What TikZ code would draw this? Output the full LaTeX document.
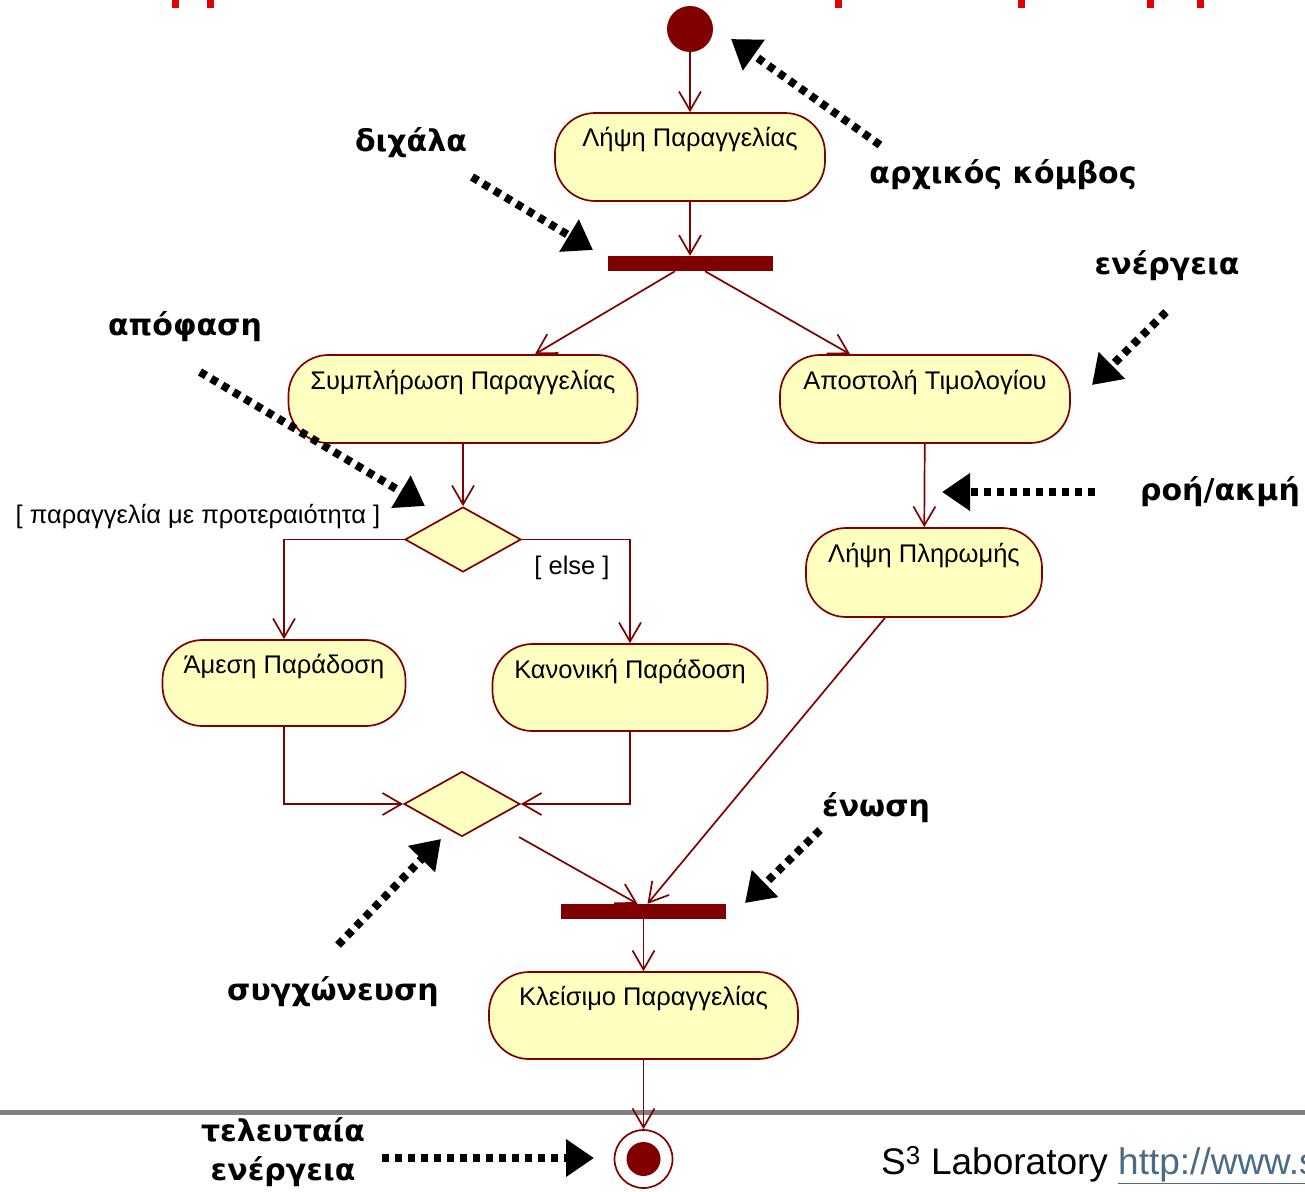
\documentclass[tikz,border=0pt]{standalone}
\usepackage{fontspec}
\setmainfont{Liberation Sans}
\newfontfamily\notefont{DejaVu Sans}
\usetikzlibrary{arrows.meta,shapes.geometric,calc}
\definecolor{umlred}{HTML}{800000}
\definecolor{actfill}{HTML}{FFFFC0}
\definecolor{rulegray}{HTML}{808080}
\definecolor{linkblue}{HTML}{4A6A86}
\definecolor{titlered}{HTML}{E00000}
\begin{document}
\begin{tikzpicture}[x=1pt,y=-1pt,
  act/.style={draw=umlred, line width=1.7pt, fill=actfill, rounded corners=40pt, inner sep=0pt},
  acttext/.style={font=\fontsize{25.5}{30}\selectfont, anchor=base, inner sep=0pt},
  guard/.style={font=\fontsize{25.5}{30}\selectfont, inner sep=0pt},
  bar/.style={fill=umlred, inner sep=0pt, minimum height=15pt},
  choice/.style={diamond, draw=umlred, line width=1.7pt, fill=actfill, inner sep=0pt, minimum width=116pt, minimum height=65pt},
  flow/.style={draw=umlred, line width=1.7pt, -{Straight Barb[length=19pt,width=22pt,line width=1.7pt]}},
  note/.style={line width=8pt, dash pattern=on 7pt off 6pt, -{Triangle[length=28pt,width=36pt]}},
  notetext/.style={font=\notefont\bfseries\fontsize{30}{34}\selectfont, inner sep=0pt, align=center},
]
\useasboundingbox (0,0) rectangle (1305,1191);

% fragments of the heading above
\foreach \xx in {175,210,838,1021,1150,1200}
  \fill[titlered] (\xx-3.5,0) rectangle (\xx+3.5,8);

% footer rule
\draw[rulegray, line width=5pt] (0,1112) -- (1305,1112);

% ---- activity nodes ----
\node[circle, fill=umlred, minimum size=46pt, inner sep=0pt] (start) at (690,29) {};
\node[act, minimum width=270pt, minimum height=88pt] (take) at (690,157) {};
\node[acttext] (takeT) at ([yshift=-34pt]take.north) {Λήψη Παραγγελίας};

\node[bar, minimum width=165pt] (fork) at (690,263.5) {};

\node[act, minimum width=349pt, minimum height=88pt] (complete) at (463,399) {};
\node[acttext] (completeT) at ([yshift=-35pt]complete.north) {Συμπλήρωση Παραγγελίας};

\node[act, minimum width=290pt, minimum height=88pt] (invoice) at (925,399) {};
\node[acttext] (invoiceT) at ([yshift=-35pt]invoice.north) {Αποστολή Τιμολογίου};

\node[choice] (decide) at (463,539.5) {};
\node[guard] (g1) at (198,517) {[ παραγγελία με προτεραιότητα ]};
\node[guard] (g2) at (572,568) {[ else ]};

\node[act, minimum width=243pt, minimum height=86pt] (rush) at (284,683) {};
\node[acttext] (rushT) at ([yshift=-34pt]rush.north) {Άμεση Παράδοση};

\node[act, minimum width=275pt, minimum height=87pt] (normal) at (630,687.5) {};
\node[acttext] (normalT) at ([yshift=-35pt]normal.north) {Κανονική Παράδοση};

\node[choice] (merge) at (462,804) {};

\node[act, minimum width=236pt, minimum height=89pt] (pay) at (924,572.5) {};
\node[acttext] (payT) at ([yshift=-35pt]pay.north) {Λήψη Πληρωμής};

\node[bar, minimum width=165pt] (join) at (643.5,911.5) {};

\node[act, minimum width=309pt, minimum height=87pt] (close) at (643.5,1015.5) {};
\node[acttext] (closeT) at ([yshift=-34pt]close.north) {Κλείσιμο Παραγγελίας};

\node[circle, draw=umlred, line width=1.7pt, fill=white, minimum size=58pt, inner sep=0pt] (final) at (643.5,1159) {};
\node[circle, fill=umlred, minimum size=34pt, inner sep=0pt] (finalDot) at (final) {};

% ---- control flow ----
\draw[flow] (start) -- (take);
\draw[flow] (take) -- (fork);
\draw[flow] ([xshift=-15pt]fork.south) -- ([xshift=72pt]complete.north);
\draw[flow] ([xshift=15pt]fork.south) -- ([xshift=-75pt]invoice.north);
\draw[flow] (complete) -- (decide);
\draw[flow] (decide.west) -| (rush.north);
\draw[flow] (decide.east) -| (normal.north);
\draw[flow] (rush.south) |- (merge.west);
\draw[flow] (normal.south) |- (merge.east);
\draw[flow] ($(merge.center)+(57,33)$) -- ([xshift=-6pt]join.north);
\draw[flow] (invoice) -- (pay);
\draw[flow] ([xshift=-39pt]pay.south) -- ([xshift=4pt]join.north);
\draw[flow] (join) -- (close);
\draw[flow] (close) -- (final);

% ---- annotations ----
\node[notetext] (nFork) at (411,143) {διχάλα};
\coordinate (nForkA) at (472,177);
\coordinate (nForkB) at (593,250);
\draw[note] (nForkA) -- (nForkB);

\node[notetext] (nStart) at (1003,175) {αρχικός κόμβος};
\coordinate (nStartA) at (880,145);
\coordinate (nStartB) at (731,39);
\draw[note] (nStartA) -- (nStartB);

\node[notetext] (nAct) at (1167,266) {ενέργεια};
\coordinate (nActA) at (1166,312);
\coordinate (nActB) at (1092,385);
\draw[note] (nActA) -- (nActB);

\node[notetext] (nDec) at (185,327) {απόφαση};
\coordinate (nDecA) at (200,372);
\coordinate (nDecB) at (425,506);
\draw[note] (nDecA) -- (nDecB);

\node[notetext] (nEdge) at (1220,492) {ροή/ακμή};
\coordinate (nEdgeA) at (1095,492);
\coordinate (nEdgeB) at (942,492);
\draw[note] (nEdgeA) -- (nEdgeB);

\node[notetext] (nJoin) at (876,808) {ένωση};
\coordinate (nJoinA) at (820,830);
\coordinate (nJoinB) at (745,903);
\draw[note] (nJoinA) -- (nJoinB);

\node[notetext] (nMerge) at (333,992) {συγχώνευση};
\coordinate (nMergeA) at (338,945);
\coordinate (nMergeB) at (441,839);
\draw[note] (nMergeA) -- (nMergeB);

\node[notetext] (nEnd1) at (283,1130) {τελευταία};
\node[notetext] (nEnd2) at (283,1172) {ενέργεια};
\coordinate (nEndA) at (382,1158);
\coordinate (nEndB) at (594,1158);
\draw[note] (nEndA) -- (nEndB);

% ---- footer ----
\node[anchor=base west, inner sep=0pt, font=\fontsize{37}{41}\selectfont] (lab) at (881,1174)
  {S\textsuperscript{3} Laboratory \textcolor{linkblue}{\underline{http://www.s}}};
\end{tikzpicture}
\end{document}
